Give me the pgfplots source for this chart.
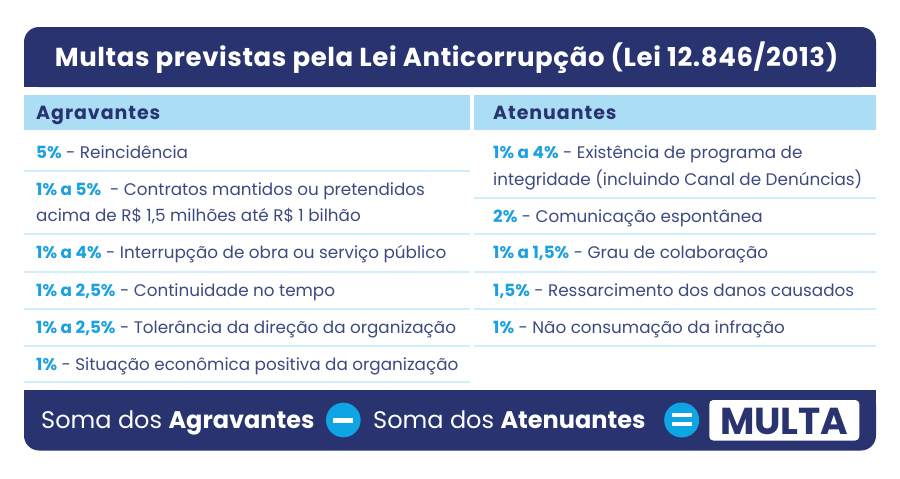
\documentclass[border=0pt]{standalone}
\usepackage{fontspec}
\setmainfont{Poppins}
\usepackage{pgfplots}
\pgfplotsset{compat=1.18}
\definecolor{navy}{HTML}{283370}
\definecolor{hdr}{HTML}{ABDEF5}
\definecolor{sep}{HTML}{CFEDFA}
\definecolor{pct}{HTML}{1BA0E1}
\definecolor{txt}{HTML}{3D4A82}
\definecolor{circ}{HTML}{0EA5E4}
\newcommand{\pc}[1]{{\bfseries\color{pct}#1}}
\begin{document}
\begin{tikzpicture}[every node/.append style={inner sep=0pt}]
\begin{axis}[width=900pt,height=479pt,scale only axis,xmin=0,xmax=900,ymin=0,ymax=479,
  y dir=reverse,hide axis,clip=false]
\addplot[draw=none] coordinates {(0,0) (900,479)};
\fill[white] (axis cs:0,0) rectangle (axis cs:900,479);
% title box
\fill[navy,rounded corners=15pt] (axis cs:24,27) rectangle (axis cs:876,87);
\fill[navy] (axis cs:24,55) rectangle (axis cs:876,87);
\node[anchor=base,inner sep=0pt,text=white,font=\fontsize{26}{30}\selectfont\bfseries\addfontfeature{LetterSpace=2.3}] at (axis cs:446.5,66.5)
  {Multas previstas pela Lei Anticorrupção (Lei 12.846/2013)};
% headers
\fill[hdr] (axis cs:24,95) rectangle (axis cs:470,130);
\fill[hdr] (axis cs:474,95) rectangle (axis cs:876,130);
\node[anchor=base west,inner sep=0pt,text=navy,font=\fontsize{19}{22}\selectfont\bfseries\addfontfeature{LetterSpace=5}] at (axis cs:36,119) {Agravantes};
\node[anchor=base west,inner sep=0pt,text=navy,font=\fontsize{19}{22}\selectfont\bfseries\addfontfeature{LetterSpace=5}] at (axis cs:493,119) {Atenuantes};
% separators left
\fill[sep] (axis cs:24,170) rectangle (axis cs:470,172);
\fill[sep] (axis cs:24,233) rectangle (axis cs:470,235);
\fill[sep] (axis cs:24,270.5) rectangle (axis cs:470,272.5);
\fill[sep] (axis cs:24,307.5) rectangle (axis cs:470,309.5);
\fill[sep] (axis cs:24,344.5) rectangle (axis cs:470,346.5);
\fill[sep] (axis cs:24,381) rectangle (axis cs:470,383);
% separators right
\fill[sep] (axis cs:474,196.5) rectangle (axis cs:876,198.5);
\fill[sep] (axis cs:474,233) rectangle (axis cs:876,235);
\fill[sep] (axis cs:474,270.5) rectangle (axis cs:876,272.5);
\fill[sep] (axis cs:474,307.5) rectangle (axis cs:876,309.5);
\fill[sep] (axis cs:474,344.5) rectangle (axis cs:876,346.5);
% left texts
\begin{scope}[every node/.style={anchor=base west,inner sep=0pt,text=txt,font=\fontsize{16.8}{20}\selectfont}]
\node at (axis cs:36,158) {\pc{5\%} - Reincidência};
\node at (axis cs:36,195) {\pc{1\% a 5\%}\ \ - Contratos mantidos ou pretendidos};
\node at (axis cs:36,221) {acima de R\$ 1,5 milhões até R\$ 1 bilhão};
\node at (axis cs:36,258) {\pc{1\% a 4\%} - Interrupção de obra ou serviço público};
\node at (axis cs:36,296) {\pc{1\% a 2,5\%} - Continuidade no tempo};
\node at (axis cs:36,333) {\pc{1\% a 2,5\%} - Tolerância da direção da organização};
\node at (axis cs:36,370) {\pc{1\%} - Situação econômica positiva da organização};
% right texts
\node at (axis cs:493,158) {\pc{1\% a 4\%} - Existência de programa de};
\node at (axis cs:493,185) {integridade (incluindo Canal de Denúncias)};
\node at (axis cs:493,222) {\pc{2\%} - Comunicação espontânea};
\node at (axis cs:493,258) {\pc{1\% a 1,5\%} - Grau de colaboração};
\node at (axis cs:493,296) {\pc{1,5\%} - Ressarcimento dos danos causados};
\node at (axis cs:493,333) {\pc{1\%} - Não consumação da infração};
\end{scope}
% bottom box
\fill[navy,rounded corners=15pt] (axis cs:24,390) rectangle (axis cs:876,450.5);
\fill[navy] (axis cs:24,390) rectangle (axis cs:876,420);
\node[anchor=base west,inner sep=0pt,text=white,font=\fontsize{24}{28}\selectfont] at (axis cs:41,428.5) {Soma dos \textbf{Agravantes}};
\node[anchor=base west,inner sep=0pt,text=white,font=\fontsize{24}{28}\selectfont] at (axis cs:373,428.5) {Soma dos \textbf{Atenuantes}};
\fill[circ] (axis cs:343.3,420) circle[radius=17.3pt];
\fill[white] (axis cs:333.3,417.5) rectangle (axis cs:353.3,422.5);
\fill[circ] (axis cs:681.7,420) circle[radius=17.5pt];
\fill[white] (axis cs:672,413.3) rectangle (axis cs:691.5,417.3);
\fill[white] (axis cs:672,421.5) rectangle (axis cs:691.5,425.5);
\fill[white,rounded corners=4pt] (axis cs:709.3,400) rectangle (axis cs:859.3,440.5);
\node[anchor=base,inner sep=0pt,text=navy,font=\fontsize{37.5}{42}\selectfont\bfseries] at (axis cs:784.3,434) {MULTA};
\end{axis}
\end{tikzpicture}
\end{document}
